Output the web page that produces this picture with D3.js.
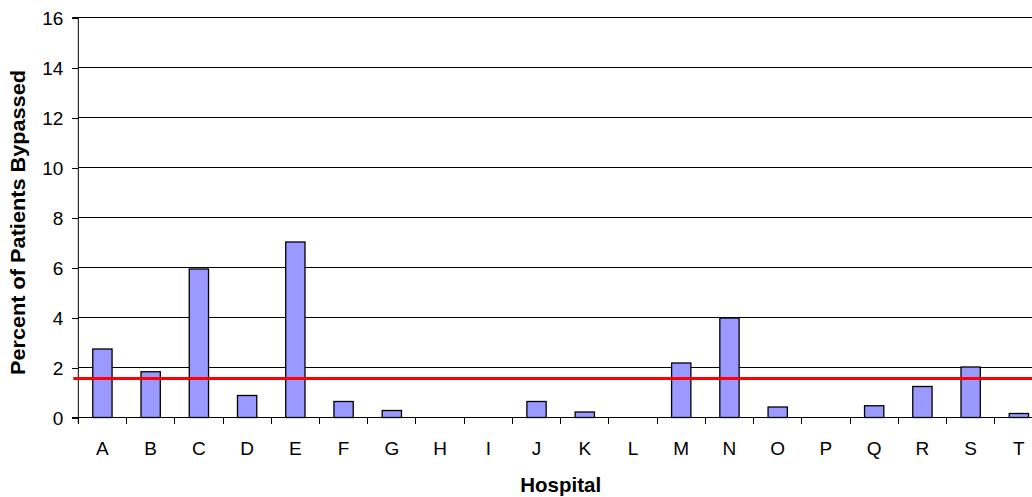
<!DOCTYPE html>
<html>
<head>
<meta charset="utf-8">
<script src="https://cdn.jsdelivr.net/npm/d3@7"></script>
<style>
  html, body { margin: 0; padding: 0; background: #fff; overflow: hidden; }
  svg { display: block; font-family: "Liberation Sans", Arial, sans-serif; }
</style>
</head>
<body>
<svg id="chart" width="1032" height="497"></svg>
<script>
const hospitals = ["A","B","C","D","E","F","G","H","I","J","K","L","M","N","O","P","Q","R","S","T"];
const percentBypassed = [2.74, 1.83, 5.94, 0.88, 7.02, 0.64, 0.28, 0, 0, 0.64, 0.22, 0, 2.18, 3.98, 0.42, 0, 0.47, 1.24, 2.02, 0.16];
const referenceLevel = [1.56];
const yTicks = [0, 2, 4, 6, 8, 10, 12, 14, 16];
const xTitle = "Hospital";
const yTitle = "Percent of Patients Bypassed";

const svg = d3.select("#chart");
const pLeft = 78.3, pRight = 1043, pTop = 17.5, pBottom = 417.5;

const x = d3.scaleBand().domain(hospitals).range([pLeft, pRight]).paddingInner(0.6).paddingOuter(0.3);
const y = d3.scaleLinear().domain([0, 16]).range([pBottom, pTop]);

// gridlines
svg.append("g").selectAll("line").data(yTicks.filter(d => d > 0)).join("line")
  .attr("x1", pLeft).attr("x2", 1032)
  .attr("y1", d => y(d)).attr("y2", d => y(d))
  .attr("stroke", "#000").attr("stroke-width", 1).attr("shape-rendering", "crispEdges");

// bars
svg.append("g").selectAll("rect").data(hospitals).join("rect")
  .attr("x", d => x(d))
  .attr("width", x.bandwidth())
  .attr("y", (d, i) => y(percentBypassed[i]))
  .attr("height", (d, i) => y(0) - y(percentBypassed[i]))
  .attr("fill", "#9999FF")
  .attr("stroke", "#000")
  .attr("stroke-width", 1.3)
  .style("display", (d, i) => percentBypassed[i] > 0 ? null : "none");

// y axis
const yAxis = d3.axisLeft(y).tickValues(yTicks).tickSize(6).tickPadding(9).tickFormat(d3.format("d"));
const gy = svg.append("g").attr("transform", `translate(${pLeft},0)`).call(yAxis);
gy.select(".domain").attr("stroke", "#000").attr("d", `M-6,${pTop}H0V${pBottom + 6}`);
gy.selectAll(".tick line").attr("stroke", "#000").attr("shape-rendering", "crispEdges");
gy.selectAll(".tick text").attr("font-size", 19).attr("fill", "#000").attr("dy", "0.36em")
  .style("font-family", "'Liberation Sans', Arial, sans-serif");

// x axis baseline and boundary ticks
const step = x.step();
const boundaries = d3.range(hospitals.length + 1).map(i => pLeft + i * step);
svg.append("line").attr("x1", pLeft - 6).attr("x2", 1032).attr("y1", pBottom).attr("y2", pBottom)
  .attr("stroke", "#000").attr("shape-rendering", "crispEdges");
svg.append("g").selectAll("line").data(boundaries).join("line")
  .attr("x1", d => d).attr("x2", d => d).attr("y1", pBottom).attr("y2", pBottom + 6)
  .attr("stroke", "#000").attr("shape-rendering", "crispEdges");
svg.append("g").selectAll("text").data(hospitals).join("text")
  .attr("x", d => x(d) + x.bandwidth() / 2)
  .attr("y", 455)
  .attr("text-anchor", "middle")
  .attr("font-size", 19)
  .attr("fill", "#000")
  .text(d => d);

// reference line
svg.append("g").selectAll("line").data(referenceLevel).join("line")
  .attr("x1", pLeft - 5).attr("x2", pRight)
  .attr("y1", d => y(d)).attr("y2", d => y(d))
  .attr("stroke", "#FF0000").attr("stroke-width", 3);

// titles
svg.append("text").attr("x", (pLeft + pRight) / 2).attr("y", 492)
  .attr("text-anchor", "middle").attr("font-size", 20.5).attr("font-weight", "bold")
  .text(xTitle);
svg.append("text").attr("transform", "translate(24.5,222.5) rotate(-90)")
  .attr("text-anchor", "middle").attr("font-size", 20.5).attr("font-weight", "bold")
  .attr("textLength", 305).attr("lengthAdjust", "spacingAndGlyphs")
  .text(yTitle);
</script>
</body>
</html>
